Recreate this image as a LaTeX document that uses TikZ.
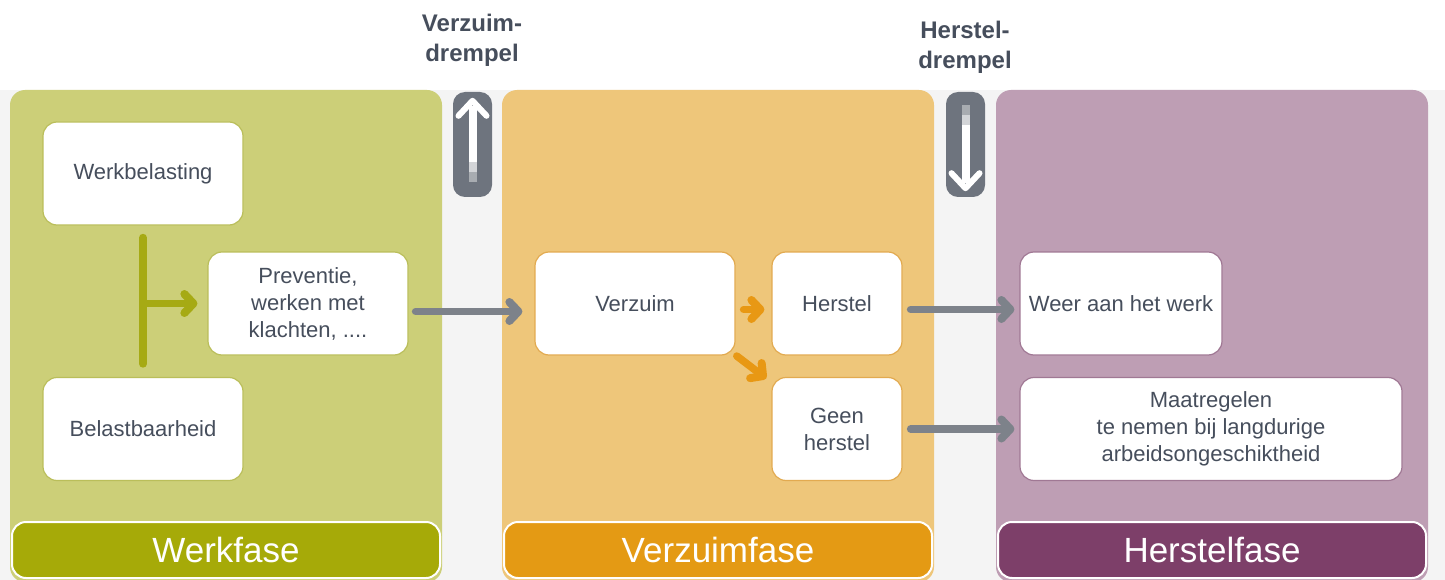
\documentclass[tikz,border=0pt]{standalone}
\usepackage{fontspec}
\setmainfont{Liberation Sans}
\usetikzlibrary{arrows.meta}
\definecolor{gpanel}{RGB}{204,207,120}
\definecolor{gbar}{RGB}{166,170,8}
\definecolor{garrow}{RGB}{166,170,20}
\definecolor{gedge}{RGB}{186,190,90}
\definecolor{opanel}{RGB}{238,198,122}
\definecolor{obar}{RGB}{228,154,20}
\definecolor{oarrow}{RGB}{232,152,20}
\definecolor{oedge}{RGB}{226,170,80}
\definecolor{ppanel}{RGB}{190,158,180}
\definecolor{pbar}{RGB}{125,63,105}
\definecolor{pedge}{RGB}{160,120,148}
\definecolor{greyarrow}{RGB}{125,130,138}
\definecolor{icongrey}{RGB}{110,116,126}
\definecolor{txt}{RGB}{70,78,92}
\definecolor{gapbg}{RGB}{244,244,244}
\tikzset{
  box/.style={draw=#1, line width=1.2pt, fill=white, rounded corners=14pt,
    text=txt, font=\fontsize{22}{27}\selectfont, align=center, inner sep=2pt},
  bar/.style={draw=white, line width=2pt, fill=#1, rounded corners=14pt,
    text=white, font=\fontsize{35}{40}\selectfont, inner sep=0pt},
  thlabel/.style={text=txt, font=\bfseries\fontsize{24}{30}\selectfont, align=center},
  fat/.style={line width=7.5pt, draw=#1, line cap=round},
  tip/.style={-{Straight Barb[length=9pt,width=19pt,line width=8pt,round]}},
}
\begin{document}
\begin{tikzpicture}[x=1pt,y=-1pt]
\useasboundingbox (0,0) rectangle (1445,580);
\fill[white] (0,0) rectangle (1445,580);
\fill[gapbg] (0,90) rectangle (1445,580);
% panels
\fill[gpanel, rounded corners=15pt] (10,90) rectangle (442,582);
\fill[opanel, rounded corners=15pt] (502,90) rectangle (934,582);
\fill[ppanel, rounded corners=15pt] (996,90) rectangle (1428,582);
% bars
\node[bar=gbar, minimum width=428pt, minimum height=56pt] (wbar) at (226,550) {Werkfase};
\node[bar=obar, minimum width=428pt, minimum height=56pt] (obarn) at (718,550) {Verzuimfase};
\node[bar=pbar, minimum width=428pt, minimum height=56pt] (pbarn) at (1212,550) {Herstelfase};
% threshold labels
\node[thlabel] (vd) at (472,40) {Verzuim-\\drempel};
\node[thlabel] (hd) at (965,47) {Herstel-\\drempel};
% threshold icons
\node[fill=icongrey, rounded corners=12pt, minimum width=39pt, minimum height=105pt, inner sep=0pt] (up) at (472.5,144.5) {};
\node[fill=icongrey, rounded corners=12pt, minimum width=39pt, minimum height=105pt, inner sep=0pt] (down) at (965.5,144.5) {};
\draw[line width=8pt, white] ([yshift=-14pt]up.north) -- ([yshift=-70pt]up.north);
\draw[line width=8pt, white!70!icongrey] ([yshift=-70pt]up.north) -- ([yshift=-80pt]up.north);
\draw[line width=8pt, white!40!icongrey] ([yshift=-80pt]up.north) -- ([yshift=-90pt]up.north);
\draw[line width=6pt, white, line cap=round, line join=round]
  ([xshift=-14pt,yshift=-24pt]up.north) -- ([yshift=-9pt]up.north) -- ([xshift=14pt,yshift=-24pt]up.north);
\draw[line width=8pt, white!40!icongrey] ([yshift=92pt]down.south) -- ([yshift=82pt]down.south);
\draw[line width=8pt, white!70!icongrey] ([yshift=82pt]down.south) -- ([yshift=72pt]down.south);
\draw[line width=8pt, white] ([yshift=14pt]down.south) -- ([yshift=72pt]down.south);
\draw[line width=6pt, white, line cap=round, line join=round]
  ([xshift=-14pt,yshift=24pt]down.south) -- ([yshift=9pt]down.south) -- ([xshift=14pt,yshift=24pt]down.south);
% boxes
\node[box=gedge, minimum width=200pt, minimum height=103pt] (wb) at (143,173.5) {Werkbelasting};
\node[box=gedge, minimum width=200pt, minimum height=103pt] (prev) at (308,303.5) {Preventie,\\werken met\\klachten, ....};
\node[box=gedge, minimum width=200pt, minimum height=103pt] (bb) at (143,429) {Belastbaarheid};
\node[box=oedge, minimum width=200pt, minimum height=103pt] (verz) at (635,303.5) {Verzuim};
\node[box=oedge, minimum width=130pt, minimum height=103pt] (her) at (837,303.5) {Herstel};
\node[box=oedge, minimum width=130pt, minimum height=103pt] (geen) at (837,429) {Geen\\herstel};
\node[box=pedge, minimum width=202pt, minimum height=103pt] (weer) at (1121,303.5) {Weer aan het werk};
\node[box=pedge, minimum width=382pt, minimum height=103pt] (maat) at (1211,429) {Maatregelen\\te nemen bij langdurige\\arbeidsongeschiktheid};
% green T connector
\coordinate (ttop) at ([yshift=-12pt]wb.south);
\coordinate (tbot) at ([yshift=13pt]bb.north);
\coordinate (tmid) at (ttop |- prev.west);
\draw[fat=garrow] (ttop) -- (tbot);
\draw[fat=garrow, tip, line cap=butt, shorten >=10pt] ([xshift=-3.5pt]tmid) -- (prev.west);
% grey arrows
\draw[fat=greyarrow, tip, shorten <=7pt, shorten >=12pt] ([yshift=-8pt]prev.east) -- ([yshift=-8pt]verz.west);
\draw[fat=greyarrow, tip, shorten <=8pt, shorten >=5pt] ([yshift=-6pt]her.east) -- ([yshift=-6pt]weer.west);
\draw[fat=greyarrow, tip, shorten <=8pt, shorten >=5pt] (geen.east) -- (maat.west);
% orange arrows
\draw[fat=oarrow, tip, shorten <=8pt, shorten >=7pt] ([yshift=-6pt]verz.east) -- ([yshift=-6pt]her.west);
\draw[fat=oarrow, tip, shorten <=4pt, shorten >=4pt] ([xshift=-2pt,yshift=2pt]verz.south east) -- ([xshift=-2pt,yshift=-4pt]geen.north west);
\end{tikzpicture}
\end{document}
